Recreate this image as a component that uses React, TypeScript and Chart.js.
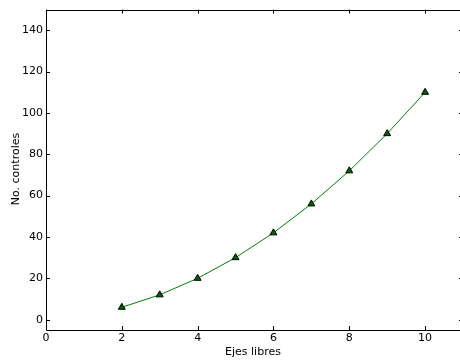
import React, { useEffect, useRef } from "react";
import { Chart, registerables } from "chart.js";

Chart.register(...registerables);

const ejesLibres = [2, 3, 4, 5, 6, 7, 8, 9, 10];
const controles = [6, 12, 20, 30, 42, 56, 72, 90, 110];
const xTicks = [0, 2, 4, 6, 8, 10];
const yTicks = [0, 20, 40, 60, 80, 100, 120, 140];
const xTitle = "Ejes libres";
const yTitle = "No. controles";

const FONT = "DejaVu Sans";

const framePlugin = {
  id: "frame",
  afterDraw(chart: any) {
    const { ctx, chartArea } = chart;
    const { left, right, top, bottom } = chartArea;
    const xs = chart.scales.x;
    const ys = chart.scales.y;
    ctx.save();
    ctx.strokeStyle = "#000";
    ctx.lineWidth = 1;
    ctx.beginPath();
    ctx.rect(Math.round(left) + 0.5, Math.round(top) + 0.5, Math.round(right - left), Math.round(bottom - top));
    ctx.stroke();
    const tl = 4;
    ctx.beginPath();
    xTicks.forEach((v) => {
      const px = Math.round(xs.getPixelForValue(v)) + 0.5;
      ctx.moveTo(px, bottom);
      ctx.lineTo(px, bottom - tl);
      ctx.moveTo(px, top);
      ctx.lineTo(px, top + tl);
    });
    yTicks.forEach((v) => {
      const py = Math.round(ys.getPixelForValue(v)) + 0.5;
      ctx.moveTo(left, py);
      ctx.lineTo(left + tl, py);
      ctx.moveTo(right, py);
      ctx.lineTo(right - tl, py);
    });
    ctx.stroke();
    ctx.fillStyle = "#000";
    ctx.font = `11px "${FONT}"`;
    ctx.textAlign = "center";
    ctx.textBaseline = "middle";
    ctx.fillText(xTitle, 253, 352);
    ctx.translate(16, 169);
    ctx.rotate(-Math.PI / 2);
    ctx.fillText(yTitle, 0, 0);
    ctx.restore();
  },
};

export default function App() {
  const ref = useRef<HTMLCanvasElement>(null);
  useEffect(() => {
    const canvas = ref.current!;
    const chart = new Chart(canvas, {
      type: "line",
      data: {
        datasets: [
          {
            data: ejesLibres.map((x, i) => ({ x, y: controles[i] })),
            borderColor: "#008000",
            borderWidth: 1,
            pointStyle: "triangle",
            pointRadius: 4,
            pointBackgroundColor: "#006400",
            pointBorderColor: "#000",
            pointBorderWidth: 1,
            tension: 0,
          },
        ],
      },
      options: {
        animation: false,
        responsive: false,
        devicePixelRatio: 1,
        layout: { padding: { left: 0, top: 8, right: 17, bottom: 0 } },
        plugins: { legend: { display: false }, tooltip: { enabled: false } },
        scales: {
          x: {
            type: "linear",
            min: 0,
            max: 11,
            grid: { display: false, drawTicks: false },
            border: { display: false },
            afterFit(s: any) {
              s.height = 32;
            },
            afterBuildTicks(s: any) {
              s.ticks = xTicks.map((v) => ({ value: v }));
            },
            ticks: {
              padding: 2,
              color: "#000",
              font: { family: FONT, size: 11 },
              maxRotation: 0,
            },
          },
          y: {
            type: "linear",
            min: -5,
            max: 150,
            grid: { display: false, drawTicks: false },
            border: { display: false },
            afterFit(s: any) {
              s.width = 46;
            },
            afterBuildTicks(s: any) {
              s.ticks = yTicks.map((v) => ({ value: v }));
            },
            ticks: {
              padding: 3,
              color: "#000",
              font: { family: FONT, size: 11 },
            },
          },
        },
      },
      plugins: [framePlugin],
    });
    return () => chart.destroy();
  }, []);
  return (
    <div style={{ position: "fixed", left: 0, top: 0, width: 460, height: 362, overflow: "hidden", background: "#fff" }}>
      <canvas ref={ref} width={480} height={362} style={{ display: "block" }} />
    </div>
  );
}
